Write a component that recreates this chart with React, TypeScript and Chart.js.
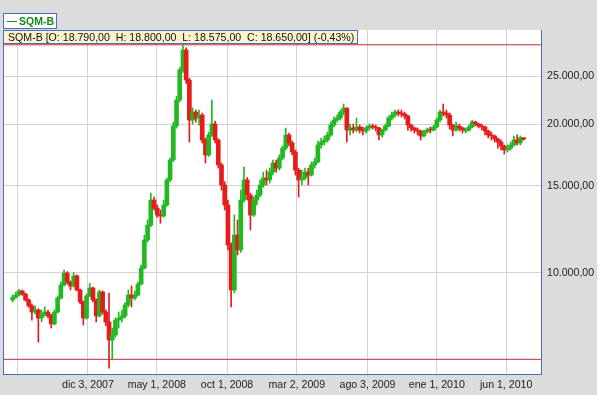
import React, { useEffect, useRef } from 'react';
import { Chart, registerables } from 'chart.js';

Chart.register(...registerables);

// ---------- data ----------
const ticker = 'SQM-B';
const infoText = 'SQM-B [O: 18.790,00  H: 18.800,00  L: 18.575,00  C: 18.650,00] (-0,43%)';
const firstWeek = '2007-06-22';

const opens = [
  8800, 8920, 9010, 9180, 9050, 8800, 8560, 8320, 8400, 8090,
  8240, 8320, 8170, 7870, 8320, 8880, 9440, 9980, 9570, 9390,
  9850, 9220, 8720, 8090, 8970, 9310, 8800, 8170, 9140, 8320,
  7940, 7300, 7470, 8015, 8090, 8170, 8600, 9010, 8880, 9010,
  9480, 10220, 11650, 12490, 14040, 13530, 13090, 13030, 13720, 15420,
  16930, 19840, 22400, 25780, 28300, 24600, 20400, 21180, 20600, 20890,
  18590, 17330, 19030, 20030, 18590, 16540, 15060, 13720, 11380, 9220,
  11920, 11120, 14040, 15420, 14370, 13090, 14040, 14370, 15060, 15560,
  15420, 16000, 16690, 16300, 17090, 17900, 19030, 18330, 17570, 16150,
  15420, 15560, 16000, 15780, 16540, 16770, 18160, 18410, 18590, 19030,
  19930, 20410, 20600, 21180, 21580, 19470, 19660, 19470, 19750, 19470,
  19380, 19660, 19840, 19750, 19660, 19030, 19470, 19840, 20600, 20890,
  21180, 21080, 20990, 20790, 19930, 19660, 19470, 19380, 18940, 19290,
  19560, 19470, 19750, 20410, 21180, 21080, 20890, 19930, 19470, 19840,
  19660, 19380, 19470, 19750, 20220, 20030, 19840, 19750, 19380, 19030,
  18940, 18670, 18410, 18070, 17740, 17900, 18160, 18590, 18330, 18790,
];
const highs = [
  9010, 9130, 9250, 9220, 9090, 8850, 8640, 8560, 8450, 8400,
  8520, 8400, 8240, 8400, 8970, 9570, 10120, 10050, 9620, 10000,
  9900, 9260, 8760, 9050, 9520, 9350, 8850, 9220, 9180, 8400,
  9090, 7720, 8090, 8320, 8400, 8700, 9220, 9400, 9180, 9570,
  10360, 11920, 12800, 14500, 14240, 13720, 13400, 14040, 15560, 17090,
  20200, 22800, 26100, 29240, 28600, 24800, 21600, 21400, 21380, 21080,
  18760, 19300, 22400, 20300, 18700, 16700, 15300, 14040, 11500, 13090,
  12790, 14710, 16370, 15600, 14500, 14240, 14710, 15420, 16000, 16150,
  16300, 16930, 16930, 17330, 18070, 19650, 19200, 18500, 17740, 16300,
  16150, 16300, 16300, 16770, 17090, 18500, 18760, 18940, 19300, 20220,
  20700, 20900, 21380, 21990, 21600, 20030, 20030, 20600, 19930, 19750,
  19840, 20030, 20030, 19930, 19750, 19560, 20030, 20800, 21180, 21380,
  21380, 21380, 21180, 20890, 20030, 19750, 19660, 19470, 19470, 19660,
  19750, 19930, 20600, 21380, 21990, 21380, 21080, 20030, 20220, 20030,
  19750, 19660, 19930, 20410, 20300, 20110, 20030, 19840, 19470, 19290,
  19030, 18760, 18590, 18160, 18160, 18410, 18940, 19030, 18940, 18800,
];
const lows = [
  8720, 8880, 8960, 8990, 8750, 8500, 8010, 8240, 7230, 7950,
  8160, 8090, 7720, 7830, 8280, 8840, 9400, 9480, 9220, 9350,
  9180, 8640, 7830, 8050, 8930, 8720, 7940, 8130, 8240, 7800,
  6400, 6650, 7400, 7720, 7940, 8090, 8520, 8520, 8800, 8970,
  9440, 10170, 11540, 12400, 13400, 12950, 12600, 12950, 13650, 15300,
  16800, 19650, 22200, 25500, 24200, 18410, 20000, 20200, 19930, 18330,
  16690, 17200, 18900, 18330, 16300, 14700, 13400, 11120, 8520, 9100,
  10860, 11000, 13900, 14040, 12210, 13000, 13720, 14240, 14900, 15060,
  15200, 15780, 16000, 16150, 16930, 17740, 18070, 17330, 15780, 14240,
  15060, 15420, 15060, 15700, 16300, 16690, 17900, 18160, 18410, 18900,
  19750, 20220, 20400, 20890, 18410, 19030, 19200, 19300, 19200, 19030,
  19200, 19470, 19560, 19380, 18590, 18850, 19380, 19750, 20410, 20700,
  20800, 20700, 20500, 19470, 19380, 19200, 19030, 18590, 18850, 19200,
  19200, 19380, 19660, 20220, 20800, 20600, 19560, 18940, 19380, 19380,
  19200, 19200, 19380, 19660, 19840, 19660, 19470, 19030, 18760, 18590,
  18410, 17900, 17740, 17400, 17570, 17740, 18070, 18160, 18160, 18575,
];
const closes = [
  8920, 9010, 9180, 9050, 8800, 8560, 8320, 8400, 8090, 8240,
  8320, 8170, 7870, 8320, 8880, 9440, 9980, 9570, 9390, 9850,
  9220, 8720, 8090, 8970, 9310, 8800, 8170, 9140, 8320, 7940,
  7300, 7470, 8015, 8090, 8170, 8600, 9010, 8880, 9010, 9480,
  10220, 11650, 12490, 14040, 13530, 13090, 13030, 13720, 15420, 16930,
  19840, 22400, 25780, 28300, 24600, 20400, 21180, 20600, 20890, 18590,
  17330, 19030, 20030, 18590, 16540, 15060, 13720, 11380, 9220, 11920,
  11120, 14040, 15420, 14370, 13090, 14040, 14370, 15060, 15560, 15420,
  16000, 16690, 16300, 17090, 17900, 19030, 18330, 17570, 16150, 15420,
  15560, 16000, 15780, 16540, 16770, 18160, 18410, 18590, 19030, 19930,
  20410, 20600, 21180, 21580, 19470, 19660, 19470, 19750, 19470, 19380,
  19660, 19840, 19750, 19660, 19030, 19470, 19840, 20600, 20890, 21180,
  21080, 20990, 20790, 19930, 19660, 19470, 19380, 18940, 19290, 19470,
  19470, 19750, 20410, 21180, 21080, 20890, 19930, 19470, 19840, 19660,
  19470, 19470, 19750, 20220, 20030, 19840, 19750, 19380, 19030, 18940,
  18670, 18410, 18070, 17740, 17900, 18160, 18590, 18330, 18790, 18650,
];

const xTickDates = ['2007-07-02', '2007-12-03', '2008-05-01', '2008-10-01', '2009-03-02', '2009-08-03', '2010-01-01', '2010-06-01'];
const xTickLabels = ['', 'dic 3, 2007', 'may 1, 2008', 'oct 1, 2008', 'mar 2, 2009', 'ago 3, 2009', 'ene 1, 2010', 'jun 1, 2010'];
const yTickValues = [10000, 15000, 20000, 25000];
const resistanceLevel = 29000;
const supportLevel = 6670;
const xRange = ['2007-06-01', '2010-08-16'];
const yRange = [6228, 31075];

// ---------- styles ----------
const GREEN = '#22b822';
const RED = '#e41c1c';
const LINE_RED = '#c8283c';
const BORDER_BLUE = '#4a6cc4';
const GRID = '#d2d2d2';
const BG = '#dcdcdc';
const FONT = 'Liberation Sans, Arial, sans-serif';
const FONT_SIZE = 10.6;

const dayNum = (s: string) => {
  const [y, m, d] = s.split('-').map(Number);
  return Date.UTC(y, m - 1, d) / 86400000;
};
const fmtNum = (v: number) =>
  Math.round(v).toString().replace(/\B(?=(\d{3})+(?!\d))/g, '.') + ',00';

export default function App() {
  const ref = useRef<HTMLCanvasElement | null>(null);

  useEffect(() => {
    document.body.style.margin = '0';
    const canvas = ref.current;
    if (!canvas) return;

    const start = dayNum(firstWeek);
    const xs = closes.map((_, i) => start + i * 7);
    const colors = closes.map((c, i) => (c >= opens[i] ? GREEN : RED));
    const xMin = dayNum(xRange[0]);
    const xMax = dayNum(xRange[1]);
    const tickDays = xTickDates.map(dayNum);

    const plotFrame = {
      id: 'plotFrame',
      beforeDraw(chart: any) {
        const { ctx, chartArea } = chart;
        ctx.save();
        ctx.fillStyle = '#ffffff';
        ctx.fillRect(chartArea.left, chartArea.top, chartArea.right - chartArea.left, chartArea.bottom - chartArea.top);
        ctx.restore();
      },
      afterDraw(chart: any) {
        const { ctx, chartArea } = chart;
        ctx.save();
        ctx.strokeStyle = BORDER_BLUE;
        ctx.lineWidth = 1;
        ctx.beginPath();
        ctx.moveTo(chartArea.left + 0.5, chartArea.top);
        ctx.lineTo(chartArea.left + 0.5, chartArea.bottom);
        ctx.stroke();
        ctx.restore();
      },
    };

    const chart = new Chart(canvas, {
      type: 'bar',
      data: {
        datasets: [
          {
            type: 'bar',
            label: 'body',
            data: xs.map((x, i) => ({ x, y: [opens[i], closes[i]] })) as any,
            backgroundColor: colors,
            barThickness: 4,
            minBarLength: 1,
            grouped: false,
            order: 1,
          } as any,
          {
            type: 'bar',
            label: 'wick',
            data: xs.map((x, i) => ({ x, y: [lows[i], highs[i]] })) as any,
            backgroundColor: colors,
            barThickness: 1,
            grouped: false,
            order: 2,
          } as any,
          {
            type: 'line',
            label: 'max',
            data: [{ x: xMin, y: resistanceLevel }, { x: xMax, y: resistanceLevel }],
            borderColor: LINE_RED,
            borderWidth: 1,
            pointRadius: 0,
            order: 3,
          } as any,
          {
            type: 'line',
            label: 'min',
            data: [{ x: xMin, y: supportLevel }, { x: xMax, y: supportLevel }],
            borderColor: LINE_RED,
            borderWidth: 1,
            pointRadius: 0,
            order: 3,
          } as any,
        ],
      },
      options: {
        responsive: false,
        animation: false,
        devicePixelRatio: 1,
        layout: { padding: { left: 3, top: 30, right: 0, bottom: 0 } },
        plugins: { legend: { display: false }, tooltip: { enabled: false } },
        scales: {
          x: {
            type: 'linear',
            min: xMin,
            max: xMax,
            offset: false,
            afterBuildTicks: (axis: any) => {
              axis.ticks = tickDays.map((v) => ({ value: v }));
            },
            afterFit: (axis: any) => {
              axis.height = 21;
            },
            grid: { color: GRID, tickColor: GRID, tickLength: 3, offset: false },
            border: { color: BORDER_BLUE, width: 1 },
            ticks: {
              autoSkip: false,
              maxRotation: 0,
              padding: 2,
              color: '#222',
              font: { family: FONT, size: FONT_SIZE },
              callback: (_v: any, i: number) => xTickLabels[i],
            },
          },
          y: {
            type: 'logarithmic',
            position: 'right',
            min: yRange[0],
            max: yRange[1],
            beginAtZero: false,
            afterBuildTicks: (axis: any) => {
              axis.ticks = yTickValues.map((v) => ({ value: v }));
            },
            afterFit: (axis: any) => {
              axis.width = 56;
            },
            grid: { color: GRID, tickColor: GRID, tickLength: 4 },
            border: { color: BORDER_BLUE, width: 1 },
            ticks: {
              autoSkip: false,
              padding: 2,
              color: '#222',
              font: { family: FONT, size: FONT_SIZE },
              callback: (v: any) => fmtNum(Number(v)),
            },
          },
        },
      } as any,
      plugins: [plotFrame],
    });

    return () => chart.destroy();
  }, []);

  return (
    <div style={{ position: 'relative', width: 597, height: 395, background: BG, overflow: 'hidden' }}>
      <canvas ref={ref} width={597} height={395} style={{ display: 'block' }} />
      <div
        style={{
          position: 'absolute', left: 3, top: 13, width: 52, height: 14,
          border: `1px solid ${BORDER_BLUE}`, background: '#fff',
          fontFamily: FONT, fontSize: 10.5, fontWeight: 'bold', color: '#138a13',
          lineHeight: '14px', whiteSpace: 'pre',
        }}
      >
        <span style={{ position: 'absolute', left: 3, top: 7, width: 10, height: 1, background: '#138a13' }} />
        <span style={{ position: 'absolute', left: 15, top: 0 }}>{ticker}</span>
      </div>
      <div
        style={{
          position: 'absolute', left: 3, top: 30, width: 349, height: 12,
          border: `1px solid ${BORDER_BLUE}`, background: '#fdf4cc',
          fontFamily: FONT, fontSize: FONT_SIZE, color: '#111',
          lineHeight: '12px', whiteSpace: 'pre', paddingLeft: 4, boxSizing: 'content-box',
        }}
      >
        {infoText}
      </div>
    </div>
  );
}
